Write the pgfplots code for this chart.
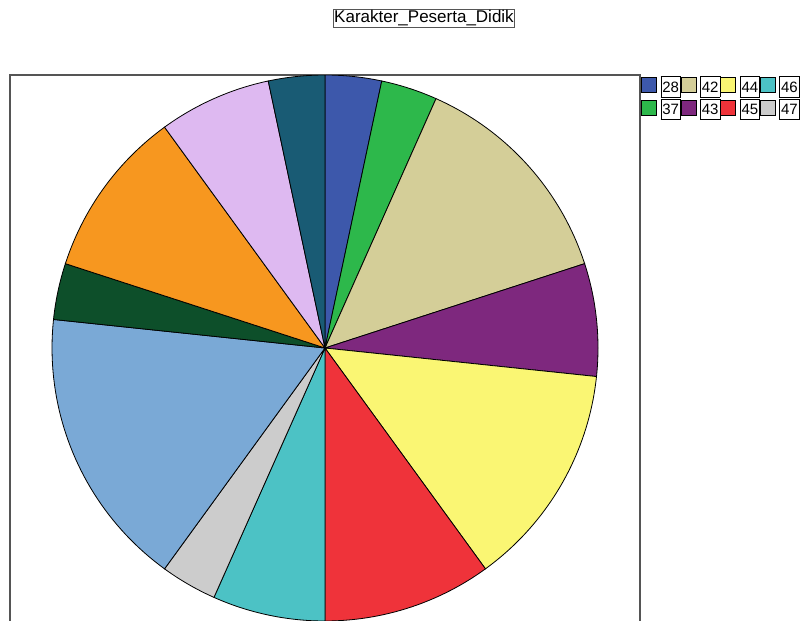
\documentclass[border=0pt]{standalone}
\usepackage{pgfplots}
\pgfplotsset{compat=1.18}
\usepackage{fontspec}
\setmainfont{Liberation Sans}
\definecolor{c28}{HTML}{3D58AB}
\definecolor{c37}{HTML}{2DB84B}
\definecolor{c42}{HTML}{D4CE98}
\definecolor{c43}{HTML}{7E287E}
\definecolor{c44}{HTML}{FAF673}
\definecolor{c45}{HTML}{EF333A}
\definecolor{c46}{HTML}{4CC2C5}
\definecolor{c47}{HTML}{CCCCCC}
\definecolor{c48}{HTML}{7AA9D6}
\definecolor{c49}{HTML}{0D4F2A}
\definecolor{c50}{HTML}{F7971F}
\definecolor{c51}{HTML}{DEB9F1}
\definecolor{c52}{HTML}{195B74}
\definecolor{frame}{HTML}{555555}
\newcommand{\lbox}[1]{\fbox{\rule[-3.5pt]{0pt}{18pt}#1}\hspace{1pt}}
\begin{document}
\begin{tikzpicture}
\useasboundingbox (0pt,0pt) rectangle (801pt,-621pt);
\begin{axis}[
  at={(10pt,-75pt)}, anchor=north west,
  scale only axis, width=630pt, height=625pt,
  xmin=-315, xmax=315, ymin=-352, ymax=273,
  xtick=\empty, ytick=\empty,
  axis line style={draw=frame, line width=1.5pt},
  legend columns=4,
  legend style={draw=none, fill=none, inner sep=0pt, outer sep=0pt,
    at={(rel axis cs:1,1)}, anchor=north west, xshift=1pt, yshift=-1pt,
    font=\fontsize{15}{17}\selectfont,
    nodes={inner sep=0pt, outer sep=0pt},
    column sep=0pt, row sep=5pt},
  legend image code/.code={\draw[#1, line width=0.7pt] (0pt,-7.5pt) rectangle (15pt,7.5pt); \path (19pt,0pt);},
]
% counts: 1,1,4,2,4,3,2,1,5,1,3,2,1 of N = 30 (12 degrees each)
\addplot[forget plot, fill=c28, draw=black, line width=0.8pt, domain=0:12, samples=20, variable=\t] ({273*sin(t)},{273*cos(t)}) -- (axis cs:0,0) -- cycle;
\addplot[forget plot, fill=c37, draw=black, line width=0.8pt, domain=12:24, samples=20, variable=\t] ({273*sin(t)},{273*cos(t)}) -- (axis cs:0,0) -- cycle;
\addplot[forget plot, fill=c42, draw=black, line width=0.8pt, domain=24:72, samples=40, variable=\t] ({273*sin(t)},{273*cos(t)}) -- (axis cs:0,0) -- cycle;
\addplot[forget plot, fill=c43, draw=black, line width=0.8pt, domain=72:96, samples=25, variable=\t] ({273*sin(t)},{273*cos(t)}) -- (axis cs:0,0) -- cycle;
\addplot[forget plot, fill=c44, draw=black, line width=0.8pt, domain=96:144, samples=40, variable=\t] ({273*sin(t)},{273*cos(t)}) -- (axis cs:0,0) -- cycle;
\addplot[forget plot, fill=c45, draw=black, line width=0.8pt, domain=144:180, samples=30, variable=\t] ({273*sin(t)},{273*cos(t)}) -- (axis cs:0,0) -- cycle;
\addplot[forget plot, fill=c46, draw=black, line width=0.8pt, domain=180:204, samples=25, variable=\t] ({273*sin(t)},{273*cos(t)}) -- (axis cs:0,0) -- cycle;
\addplot[forget plot, fill=c47, draw=black, line width=0.8pt, domain=204:216, samples=20, variable=\t] ({273*sin(t)},{273*cos(t)}) -- (axis cs:0,0) -- cycle;
\addplot[forget plot, fill=c48, draw=black, line width=0.8pt, domain=216:276, samples=45, variable=\t] ({273*sin(t)},{273*cos(t)}) -- (axis cs:0,0) -- cycle;
\addplot[forget plot, fill=c49, draw=black, line width=0.8pt, domain=276:288, samples=20, variable=\t] ({273*sin(t)},{273*cos(t)}) -- (axis cs:0,0) -- cycle;
\addplot[forget plot, fill=c50, draw=black, line width=0.8pt, domain=288:324, samples=30, variable=\t] ({273*sin(t)},{273*cos(t)}) -- (axis cs:0,0) -- cycle;
\addplot[forget plot, fill=c51, draw=black, line width=0.8pt, domain=324:348, samples=25, variable=\t] ({273*sin(t)},{273*cos(t)}) -- (axis cs:0,0) -- cycle;
\addplot[forget plot, fill=c52, draw=black, line width=0.8pt, domain=348:360, samples=20, variable=\t] ({273*sin(t)},{273*cos(t)}) -- (axis cs:0,0) -- cycle;
\setlength{\fboxsep}{1pt}\setlength{\fboxrule}{0.7pt}
\addlegendimage{fill=c28, draw=black}\addlegendentry{\lbox{28}}
\addlegendimage{fill=c42, draw=black}\addlegendentry{\lbox{42}}
\addlegendimage{fill=c44, draw=black}\addlegendentry{\lbox{44}}
\addlegendimage{fill=c46, draw=black}\addlegendentry{\lbox{46}}
\addlegendimage{fill=c37, draw=black}\addlegendentry{\lbox{37}}
\addlegendimage{fill=c43, draw=black}\addlegendentry{\lbox{43}}
\addlegendimage{fill=c45, draw=black}\addlegendentry{\lbox{45}}
\addlegendimage{fill=c47, draw=black}\addlegendentry{\lbox{47}}
\end{axis}
\node[draw=frame, line width=1pt, inner sep=1pt, font=\fontsize{17}{19}\selectfont] at (424pt,-18.5pt) {Karakter\_Peserta\_Didik};
\end{tikzpicture}
\end{document}
